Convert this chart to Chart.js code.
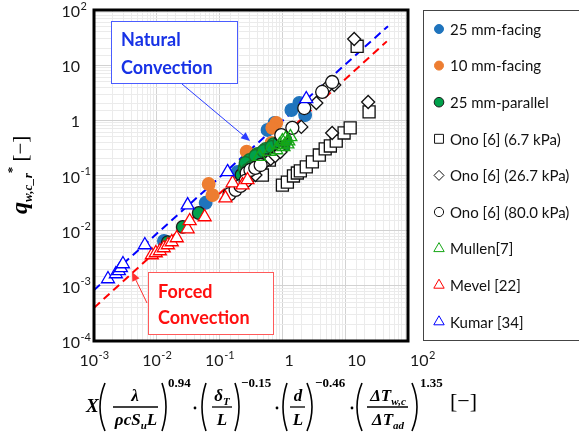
<!DOCTYPE html>
<html>
<head>
<meta charset="utf-8">
<script src="https://cdn.jsdelivr.net/npm/chart.js@4.4.1/dist/chart.umd.min.js"></script>
<style>
  html, body { margin: 0; padding: 0; background: #fff; }
</style>
</head>
<body>
<canvas id="chart" width="579" height="435"></canvas>
<script>
// values
var facing25X = [1.39, 1.86, 2.3, 0.58, 0.75, 0.193, 0.060, 0.013];
var facing25Y = [1.54, 2.06, 1.25, 0.67, 0.90, 0.116, 0.032, 0.0065];

var facing10X = [0.80, 0.69, 0.27, 0.067, 0.077, 0.67];
var facing10Y = [0.90, 0.73, 0.27, 0.070, 0.044, 0.39];

var parallel25X = [0.0465, 0.0259, 0.0150, 0.223, 0.249, 0.268, 0.289, 0.310, 0.334, 0.360, 0.387, 0.416, 0.448, 0.482,
  0.518, 0.557, 0.600, 0.645, 0.694, 0.747, 0.803, 0.864, 0.930, 1.0, 0.30, 0.40, 0.54, 0.72, 0.259,
  0.278, 0.322, 0.372, 0.431, 0.499, 0.578, 0.668, 0.775, 0.896, 1.04, 0.372, 0.499, 0.668, 0.896, 1.12];
var parallel25Y = [0.0209, 0.0117, 0.0062, 0.102, 0.137, 0.155, 0.149, 0.176, 0.162, 0.191, 0.176, 0.208, 0.199, 0.235,
  0.217, 0.256, 0.245, 0.290, 0.278, 0.315, 0.303, 0.343, 0.343, 0.388, 0.191, 0.245, 0.303, 0.37, 0.169,
  0.126, 0.143, 0.155, 0.176, 0.191, 0.217, 0.235, 0.267, 0.303, 0.343, 0.226, 0.278, 0.329, 0.405, 0.44];

var ono67X = [1.0, 1.2, 1.5, 1.73, 1.93, 2.4, 3.0, 3.87, 4.8, 5.8, 7.2, 9.6, 12.0, 24, 15.5, 0.48, 0.62];
var ono67Y = [0.067, 0.076, 0.098, 0.111, 0.121, 0.143, 0.176, 0.235, 0.303, 0.343, 0.42, 0.59, 0.73, 1.42, 22, 0.102, 0.19];

var ono267X = [0.54, 0.65, 0.77, 0.96, 2.0, 3.47, 5.0, 6.7, 6.2, 23.2, 13.9, 0.310, 0.372, 0.93];
var ono267Y = [0.176, 0.199, 0.226, 0.48, 0.76, 2.06, 3.86, 4.37, 0.59, 2.15, 29.8, 0.090, 0.102, 0.267];

var ono80X = [0.144, 0.18, 0.27, 0.31, 0.37, 0.45, 0.96, 1.44, 2.23, 4.3, 6.2, 0.215, 0.259];
var ono80Y = [0.046, 0.055, 0.111, 0.126, 0.137, 0.155, 0.54, 0.73, 1.67, 3.27, 4.95, 0.0646, 0.0796];

var mullenX = [0.90, 1.0, 1.12, 1.24, 1.34, 1.04, 0.80, 1.20, 0.62, 0.43];
var mullenY = [0.357, 0.42, 0.46, 0.42, 0.50, 0.33, 0.29, 0.37, 0.27, 0.22];

var mevelX = [0.00834, 0.00964, 0.0112, 0.0129, 0.0150, 0.0173, 0.0208, 0.0310, 0.0334, 0.0578, 0.124, 0.161, 0.232, 0.278];
var mevelY = [0.00362, 0.00394, 0.00428, 0.00485, 0.0055, 0.00623, 0.00737, 0.0107, 0.0150, 0.0177, 0.039, 0.073, 0.067, 0.083];

var kumarX = [0.00167, 0.00223, 0.00249, 0.00268, 0.00289, 0.00645, 0.031, 0.134, 2.4];
var kumarY = [0.00133, 0.00164, 0.00186, 0.00211, 0.00249, 0.0055, 0.029, 0.116, 2.44];

// dashed correlation lines (end points)
var naturalX = [0.001, 48];
var naturalY = [0.00084, 51];
var forcedX = [0.001, 46];
var forcedY = [0.0004, 27];

// axis ticks
var xTickValues = [0.001, 0.01, 0.1, 1, 10, 100];
var xTickBase = ['10', '10', '10', '1', '10', '10'];
var xTickSup = ['-3', '-2', '-1', '', '', '2'];
var yTickValues = [0.0001, 0.001, 0.01, 0.1, 1, 10, 100];
var yTickBase = ['10', '10', '10', '10', '1', '10', '10'];
var yTickSup = ['-4', '-3', '-2', '-1', '', '', '2'];

function pts(xs, ys) {
  return xs.map(function(x, i) { return { x: x, y: ys[i] }; });
}

var seriesDefs = [
  ['25 mm-facing', facing25X, facing25Y, 'circle', '#1f74bd', '#1f74bd', 6.3, 4.5],
  ['10 mm-facing', facing10X, facing10Y, 'circle', '#ed7d31', '#ed7d31', 6.3, 4.5],
  ['25 mm-parallel', parallel25X, parallel25Y, 'circle', '#00a14b', '#1b1b1b', 6.3, 4.8],
  ['Ono [6] (6.7 kPa)', ono67X, ono67Y, 'rect', '#ffffff', '#111111', 8.5, 6.3],
  ['Ono [6] (26.7 kPa)', ono267X, ono267Y, 'rectRot', '#ffffff', '#111111', 6.5, 5],
  ['Ono [6] (80.0 kPa)', ono80X, ono80Y, 'circle', '#ffffff', '#111111', 6.5, 4.6],
  ['Mullen[7]', mullenX, mullenY, 'triangle', 'rgba(255,255,255,0)', '#16a616', 7.5, 6],
  ['Mevel [22]', mevelX, mevelY, 'triangle', '#ffffff', '#ff0000', 7.5, 6],
  ['Kumar [34]', kumarX, kumarY, 'triangle', '#ffffff', '#0000ff', 7.5, 6]
];

var datasets = seriesDefs.map(function(s, i) {
  return {
    label: s[0],
    data: pts(s[1], s[2]),
    pointStyle: s[3],
    backgroundColor: s[4],
    borderColor: s[5],
    pointRadius: s[6],
    pointBorderWidth: 1.3,
    legendRadius: s[7],
    order: 20 - i
  };
});
// the dense parallel cluster reads as green in the reference: darker green rims there
datasets[2].pointBorderColor = function(c) { return c.dataIndex > 3 ? '#17702a' : '#1b1b1b'; };

datasets.push({
  type: 'line', label: 'natural', data: pts(naturalX, naturalY), showLine: true,
  borderColor: '#0000ff', borderWidth: 2, borderDash: [8, 5], pointRadius: 0, fill: false, order: 50
});
datasets.push({
  type: 'line', label: 'forced', data: pts(forcedX, forcedY), showLine: true,
  borderColor: '#ff0000', borderWidth: 2, borderDash: [8, 5], pointRadius: 0, fill: false, order: 51
});

function isDecade(v) {
  var l = Math.log10(v);
  return Math.abs(l - Math.round(l)) < 1e-6;
}

function marker(ctx, style, x, y, r) {
  ctx.beginPath();
  if (style === 'circle') ctx.arc(x, y, r, 0, Math.PI * 2);
  else if (style === 'rect') ctx.rect(x - r * 0.707, y - r * 0.707, r * 1.414, r * 1.414);
  else if (style === 'rectRot') {
    ctx.moveTo(x, y - r); ctx.lineTo(x + r, y); ctx.lineTo(x, y + r); ctx.lineTo(x - r, y); ctx.closePath();
  } else {
    ctx.moveTo(x, y - r); ctx.lineTo(x + r * 0.866, y + r * 0.5); ctx.lineTo(x - r * 0.866, y + r * 0.5); ctx.closePath();
  }
  ctx.fill();
  ctx.stroke();
}

function bi(sz) { return 'italic bold ' + sz + 'px "Liberation Serif"'; }

// draw a row of [text, font, dy] pieces, centred on cx (or left at cx if left)
function comp(ctx, parts, cx, base, left) {
  var w = 0;
  parts.forEach(function(p) { ctx.font = p[1]; w += ctx.measureText(p[0]).width; });
  var x = left ? cx : cx - w / 2;
  ctx.textAlign = 'left';
  parts.forEach(function(p) {
    ctx.font = p[1];
    ctx.fillText(p[0], x, base + (p[2] || 0));
    x += ctx.measureText(p[0]).width;
  });
}

function paren(ctx, xa, xb, top, bot, open) {
  ctx.beginPath();
  if (open) { ctx.moveTo(xb, top); ctx.quadraticCurveTo(2 * xa - xb, (top + bot) / 2, xb, bot); }
  else { ctx.moveTo(xa, top); ctx.quadraticCurveTo(2 * xb - xa, (top + bot) / 2, xa, bot); }
  ctx.stroke();
}

function bar(ctx, x1, x2, y) {
  ctx.beginPath(); ctx.moveTo(x1, y); ctx.lineTo(x2, y); ctx.stroke();
}

function dot(ctx, x, y) {
  ctx.beginPath(); ctx.arc(x, y, 1.4, 0, Math.PI * 2); ctx.fill();
}

function arrow(ctx, x1, y1, x2, y2, color) {
  var a = Math.atan2(y2 - y1, x2 - x1), L = 9, W = 4;
  ctx.strokeStyle = color; ctx.fillStyle = color; ctx.lineWidth = 1;
  ctx.beginPath(); ctx.moveTo(x1, y1);
  ctx.lineTo(x2 - L * Math.cos(a), y2 - L * Math.sin(a)); ctx.stroke();
  ctx.beginPath();
  ctx.moveTo(x2, y2);
  ctx.lineTo(x2 - L * Math.cos(a) + W * Math.sin(a), y2 - L * Math.sin(a) - W * Math.cos(a));
  ctx.lineTo(x2 - L * Math.cos(a) - W * Math.sin(a), y2 - L * Math.sin(a) + W * Math.cos(a));
  ctx.closePath(); ctx.fill();
}

var decor = {
  id: 'decor',
  beforeDraw: function(chart) {
    var ctx = chart.ctx;
    ctx.save();
    ctx.fillStyle = '#fff';
    ctx.fillRect(0, 0, chart.width, chart.height);
    ctx.restore();
  },
  afterDraw: function(chart) {
    var ctx = chart.ctx, a = chart.chartArea, xs = chart.scales.x, ys = chart.scales.y;
    ctx.save();

    // plot frame
    ctx.strokeStyle = '#000'; ctx.lineWidth = 3;
    ctx.strokeRect(a.left, a.top, a.right - a.left, a.bottom - a.top);

    // tick labels
    ctx.fillStyle = '#1a1a1a'; ctx.textBaseline = 'middle';
    xTickValues.forEach(function(v, i) {
      ctx.font = '16px Lato'; var wb = ctx.measureText(xTickBase[i]).width;
      ctx.font = '11px Lato'; var ws = xTickSup[i] ? ctx.measureText(xTickSup[i]).width : 0;
      var px = xs.getPixelForValue(v);
      var left = v < 1 ? px - (wb + ws) / 2 : px + 2;
      ctx.textAlign = 'left';
      ctx.font = '16px Lato'; ctx.fillText(xTickBase[i], left, 361);
      if (xTickSup[i]) { ctx.font = '11px Lato'; ctx.fillText(xTickSup[i], left + wb + 0.5, 355); }
    });
    yTickValues.forEach(function(v, i) {
      var py = ys.getPixelForValue(v) + 2;
      ctx.font = '16px Lato'; ctx.textAlign = 'right'; ctx.fillText(yTickBase[i], 80, py);
      if (yTickSup[i]) { ctx.font = '11px Lato'; ctx.textAlign = 'left'; ctx.fillText(yTickSup[i], 80.5, py - 6); }
    });

    // y axis title
    ctx.save();
    ctx.translate(27, 214); ctx.rotate(-Math.PI / 2);
    ctx.textBaseline = 'alphabetic'; ctx.fillStyle = '#000';
    comp(ctx, [['q', bi(24), 0], ['w,c_r', bi(13), 5], ['*', 'bold 13px "Liberation Serif"', -11],
      [' [\u2212]', '21px "Liberation Serif"', 0]], 0, 0, true);
    ctx.restore();

    // x axis title
    ctx.fillStyle = '#000'; ctx.strokeStyle = '#000'; ctx.textBaseline = 'alphabetic';
    comp(ctx, [['X', bi(19), 0]], 86, 412, true);
    ctx.lineWidth = 1.6;
    paren(ctx, 100, 105, 383, 431, true); paren(ctx, 162, 166, 383, 431, false);
    paren(ctx, 202, 206, 383, 431, true); paren(ctx, 235, 239, 383, 431, false);
    paren(ctx, 283, 287, 383, 431, true); paren(ctx, 307, 312, 383, 431, false);
    paren(ctx, 357, 362, 383, 431, true); paren(ctx, 412, 417, 383, 431, false);
    ctx.lineWidth = 1.3;
    bar(ctx, 113, 158, 407); bar(ctx, 212, 232, 407); bar(ctx, 290, 305, 407); bar(ctx, 367, 408, 407);
    comp(ctx, [['\u03bb', bi(17), 0]], 135, 401);
    comp(ctx, [['\u03c1cS', bi(17), 0], ['u', bi(11), 4], ['L', bi(17), 0]], 136, 425);
    comp(ctx, [['\u03b4', bi(17), 0], ['T', bi(11), 4]], 222, 401);
    comp(ctx, [['L', bi(17), 0]], 222, 425);
    comp(ctx, [['d', bi(17), 0]], 298, 401);
    comp(ctx, [['L', bi(17), 0]], 298, 425);
    comp(ctx, [['\u0394T', bi(17), 0], ['w,c', bi(11), 4]], 388, 401);
    comp(ctx, [['\u0394T', bi(17), 0], ['ad', bi(11), 4]], 388, 425);
    comp(ctx, [['0.94', 'bold 13px "Liberation Serif"', 0]], 168, 387, true);
    comp(ctx, [['\u22120.15', 'bold 13px "Liberation Serif"', 0]], 241, 387, true);
    comp(ctx, [['\u22120.46', 'bold 13px "Liberation Serif"', 0]], 315, 387, true);
    comp(ctx, [['1.35', 'bold 13px "Liberation Serif"', 0]], 420, 387, true);
    dot(ctx, 195, 408); dot(ctx, 277, 408); dot(ctx, 352, 408);
    comp(ctx, [['[\u2212]', '22px "Liberation Serif"', 0]], 450, 408, true);

    // annotation boxes
    ctx.fillStyle = '#fff'; ctx.lineWidth = 1;
    ctx.strokeStyle = '#4a5cff';
    ctx.fillRect(111, 21, 126, 62); ctx.strokeRect(111.5, 21.5, 126, 62);
    ctx.fillStyle = '#1732e6'; ctx.font = 'bold 18px Lato'; ctx.textAlign = 'left';
    ctx.fillText('Natural', 121, 46); ctx.fillText('Convection', 121, 74);
    arrow(ctx, 182, 84, 250, 141, '#2a3cff');

    ctx.fillStyle = '#fff'; ctx.strokeStyle = '#ff5a5a';
    ctx.fillRect(148, 272, 125, 62); ctx.strokeRect(148.5, 272.5, 125, 62);
    ctx.fillStyle = '#ff1010'; ctx.font = 'bold 18px Lato';
    ctx.fillText('Forced', 158, 298); ctx.fillText('Convection', 158, 324);
    arrow(ctx, 147, 303, 132, 272, '#ff3030');

    // legend
    ctx.fillStyle = '#fff'; ctx.strokeStyle = '#444'; ctx.lineWidth = 1;
    ctx.fillRect(423, 10, 170, 330); ctx.strokeRect(423.5, 10.5, 170, 330);
    ctx.textBaseline = 'middle'; ctx.font = '15px Lato';
    chart.data.datasets.forEach(function(ds, i) {
      if (ds.type === 'line') return;
      var y = 29 + i * 36.6;
      ctx.fillStyle = ds.backgroundColor; ctx.strokeStyle = ds.borderColor; ctx.lineWidth = 1;
      marker(ctx, ds.pointStyle, 439, y, ds.legendRadius);
      ctx.fillStyle = '#111'; ctx.textAlign = 'left';
      ctx.fillText(ds.label, 450, y + 1);
    });
    ctx.restore();
  }
};

new Chart(document.getElementById('chart'), {
  type: 'scatter',
  data: { datasets: datasets },
  options: {
    responsive: false,
    animation: false,
    layout: { padding: { left: 94, top: 10, right: 171, bottom: 94 } },
    plugins: { legend: { display: false }, tooltip: { enabled: false } },
    scales: {
      x: {
        type: 'logarithmic', min: 0.001, max: 100,
        ticks: { display: false },
        border: { display: false },
        grid: {
          drawTicks: false,
          color: function(c) { return c.tick && isDecade(c.tick.value) ? '#d2d2d2' : '#ebebeb'; }
        }
      },
      y: {
        type: 'logarithmic', min: 0.0001, max: 100,
        ticks: { display: false },
        border: { display: false },
        grid: {
          drawTicks: false,
          color: function(c) { return c.tick && isDecade(c.tick.value) ? '#d2d2d2' : '#ebebeb'; }
        }
      }
    }
  },
  plugins: [decor]
});
</script>
</body>
</html>
